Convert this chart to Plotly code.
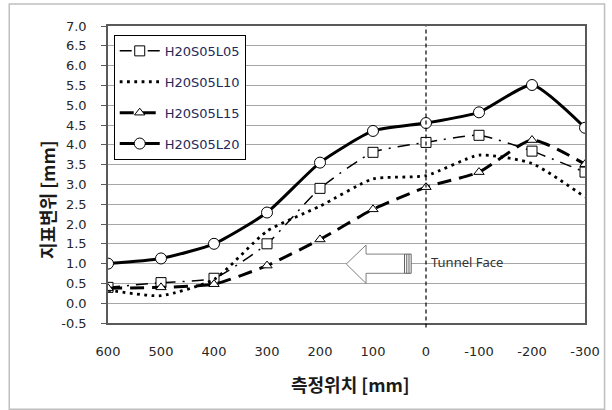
import plotly.graph_objects as go

# Measurement positions [mm] relative to the tunnel face
positions = [600, 500, 400, 300, 200, 100, 0, -100, -200, -300]

# Surface displacement [mm] for each case
l05 = [0.40, 0.52, 0.63, 1.50, 2.90, 3.81, 4.06, 4.24, 3.84, 3.31]
l10 = [0.33, 0.19, 0.60, 1.82, 2.45, 3.14, 3.22, 3.74, 3.53, 2.68]
l15 = [0.38, 0.40, 0.48, 0.95, 1.61, 2.37, 2.93, 3.31, 4.12, 3.51]
l20 = [1.00, 1.13, 1.50, 2.29, 3.55, 4.35, 4.55, 4.82, 5.51, 4.43]

series_names = ["H20S05L05", "H20S05L10", "H20S05L15", "H20S05L20"]

y_ticks = [-0.5 + 0.5 * i for i in range(16)]
x_ticks = positions

tick_font = dict(family="DejaVu Sans", size=13, color="#262626")
title_font = dict(family="Noto Sans CJK KR", size=18, color="#1a1a1a")
smooth = 0.55

fig = go.Figure()

fig.add_trace(go.Scatter(
    x=positions, y=l05, name=series_names[0], legendgroup="a",
    mode="lines+markers",
    line=dict(color="black", width=1.5, dash="12px,7px,2px,7px", shape="spline", smoothing=smooth),
    marker=dict(symbol="square", size=10, color="white", line=dict(color="black", width=1)),
))
fig.add_trace(go.Scatter(
    x=positions, y=l10, name=series_names[1], legendgroup="b",
    mode="lines",
    line=dict(color="black", width=2.8, dash="2.8px,4.5px", shape="spline", smoothing=smooth),
))
fig.add_trace(go.Scatter(
    x=positions, y=l15, name=series_names[2], legendgroup="c",
    mode="lines+markers",
    line=dict(color="black", width=3, dash="14px,8px", shape="spline", smoothing=smooth),
    marker=dict(symbol="triangle-up", size=9, color="white", line=dict(color="black", width=1)),
))
fig.add_trace(go.Scatter(
    x=positions, y=l20, name=series_names[3], legendgroup="d",
    mode="lines+markers",
    line=dict(color="black", width=3, shape="spline", smoothing=smooth),
    marker=dict(symbol="circle", size=11, color="white", line=dict(color="black", width=1)),
))

shapes = [
    # outer chart border
    dict(type="rect", xref="paper", yref="paper", x0=-0.207, x1=1.041, y0=-0.29, y1=1.074,
         line=dict(color="#bfbfbf", width=1.5), fillcolor="rgba(0,0,0,0)", layer="below"),
    # tunnel face position
    dict(type="line", xref="x", yref="paper", x0=0, x1=0, y0=-0.015, y1=1.0,
         line=dict(color="black", width=1.2, dash="4px,3px")),
    # advance direction arrow
    dict(type="path", xref="x", yref="y",
         path="M 150.4 0.99 L 113.1 1.47 L 113.1 1.24 L 40.5 1.24 L 40.5 0.755 L 113.1 0.755 L 113.1 0.50 Z",
         line=dict(color="#808080", width=1), fillcolor="white"),
    dict(type="rect", xref="x", yref="y", x0=40.5, x1=28, y0=0.755, y1=1.24,
         line=dict(color="#606060", width=1), fillcolor="white"),
    dict(type="line", xref="x", yref="y", x0=36.3, x1=36.3, y0=0.755, y1=1.24,
         line=dict(color="#606060", width=1)),
    dict(type="line", xref="x", yref="y", x0=32.1, x1=32.1, y0=0.755, y1=1.24,
         line=dict(color="#606060", width=1)),
]

annotations = [
    dict(text="Tunnel Face", x=0, y=1.05, xref="x", yref="y", xanchor="left", yanchor="middle",
         xshift=3, showarrow=False, font=dict(family="Noto Sans", size=13, color="#333333")),
    dict(text="<b>측정위치 [mm]</b>", x=0.509, y=-0.205, xref="paper", yref="paper",
         xanchor="center", yanchor="middle", showarrow=False, font=title_font),
    dict(text="<b>지표변위 [mm]</b>", x=-0.128, y=0.417, xref="paper", yref="paper",
         xanchor="center", yanchor="middle", textangle=-90, showarrow=False, font=title_font),
]

fig.update_layout(
    width=612, height=410,
    margin=dict(l=108, r=21, t=26, b=87),
    paper_bgcolor="white", plot_bgcolor="white",
    showlegend=True,
    legend=dict(x=0.012, y=0.97, xanchor="left", yanchor="top",
                bgcolor="white", bordercolor="black", borderwidth=1,
                font=dict(family="DejaVu Sans", size=13, color="#1f2a5a"),
                itemwidth=40, tracegroupgap=11),
    shapes=shapes,
    annotations=annotations,
    xaxis=dict(range=[600, -300], tickvals=x_ticks, ticktext=[str(v) for v in x_ticks],
               showgrid=False, zeroline=False, showline=True, linecolor="#595959", linewidth=1.5,
               mirror=True, ticks="", tickfont=tick_font, ticklabelstandoff=16),
    yaxis=dict(range=[-0.5, 7.0], tickvals=y_ticks, ticktext=[f"{v:.1f}" for v in y_ticks],
               showgrid=True, gridcolor="#a6a6a6", gridwidth=1, zeroline=False,
               showline=True, linecolor="#595959", linewidth=1.5, mirror=True,
               ticks="outside", ticklen=5, tickcolor="#595959", tickfont=tick_font,
               ticklabelstandoff=12),
)

fig.write_html("out.html")
